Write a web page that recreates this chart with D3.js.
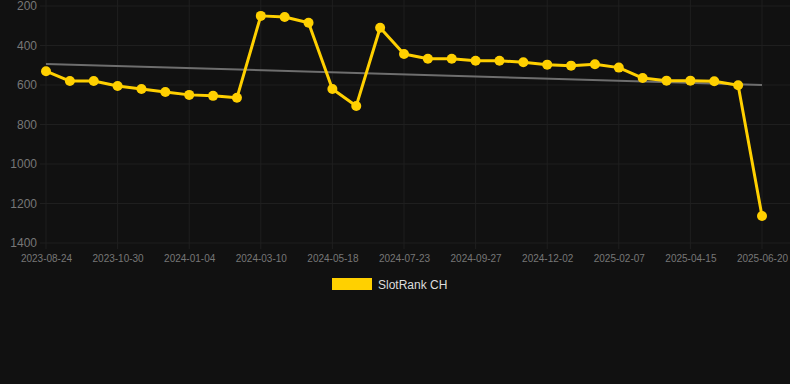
<!DOCTYPE html>
<html lang="en">
<head>
    <meta charset="UTF-8">
    <title>SlotRank CH</title>
    <script src="https://d3js.org/d3.v7.min.js"></script>
    <style>
        body {
            margin: 0;
            background: #111111;
            font-family: Arial, "Liberation Sans", sans-serif;
        }
        .grid line {
            stroke: #1f1f1f;
            stroke-width: 1;
        }
        .axis text {
            fill: #777777;
        }
    </style>
</head>
<body>
    <div id="chart"></div>

    <script>
        // dates of each sample (x axis shows every 3rd one)
        const dates = [
            "2023-08-24", "2023-09-15", "2023-10-08", "2023-10-30", "2023-11-21", "2023-12-13",
            "2024-01-04", "2024-01-26", "2024-02-17", "2024-03-10", "2024-04-02", "2024-04-25",
            "2024-05-18", "2024-06-09", "2024-07-01", "2024-07-23", "2024-08-14", "2024-09-05",
            "2024-09-27", "2024-10-19", "2024-11-10", "2024-12-02", "2024-12-24", "2025-01-15",
            "2025-02-07", "2025-03-01", "2025-03-23", "2025-04-15", "2025-05-07", "2025-05-29",
            "2025-06-20"
        ];
        // rank values (lower = better, axis reversed)
        const ranks = [
            530, 580, 580, 605, 620, 635,
            650, 655, 665, 250, 256, 285,
            620, 706, 310, 443, 467, 467,
            477, 477, 485, 497, 502, 495,
            512, 565, 578, 578, 581, 601,
            1263
        ];
        const yTicks = [200, 400, 600, 800, 1000, 1200, 1400];
        const seriesName = "SlotRank CH";

        const width = 790, height = 384;
        const mLeft = 46, mRight = 762, mTop = 6, mBottom = 243;

        const svg = d3.select("#chart").append("svg")
            .attr("width", width)
            .attr("height", height);

        const x = d3.scalePoint()
            .domain(dates)
            .range([mLeft, mRight]);

        const y = d3.scaleLinear()
            .domain([200, 1400])
            .range([mTop, mBottom]);

        const xTickDates = dates.filter((d, i) => i % 3 === 0);

        // grid
        const grid = svg.append("g").attr("class", "grid");
        grid.selectAll(".gx")
            .data(xTickDates)
            .enter().append("line")
            .attr("x1", d => x(d)).attr("x2", d => x(d))
            .attr("y1", 0).attr("y2", mBottom + 6);
        grid.selectAll(".gy")
            .data(yTicks)
            .enter().append("line")
            .attr("x1", mLeft - 6).attr("x2", width)
            .attr("y1", d => y(d)).attr("y2", d => y(d));

        // Eje Y
        svg.append("g")
            .attr("class", "axis")
            .attr("transform", `translate(${mLeft - 8},0)`)
            .call(d3.axisLeft(y).tickValues(yTicks).tickFormat(d3.format("d")).tickSize(0).tickPadding(1))
            .call(g => g.select(".domain").remove())
            .selectAll("text")
            .style("font-size", "12px");

        // Eje X
        svg.append("g")
            .attr("class", "axis")
            .attr("transform", `translate(0,${mBottom + 6})`)
            .call(d3.axisBottom(x).tickValues(xTickDates).tickSize(0).tickPadding(6))
            .call(g => g.select(".domain").remove())
            .selectAll("text")
            .style("font-size", "10px");

        // trend line (least squares over the index)
        const n = ranks.length;
        const mx = d3.mean(d3.range(n));
        const my = d3.mean(ranks);
        const slope = d3.sum(ranks, (v, i) => (i - mx) * (v - my)) / d3.sum(d3.range(n), i => (i - mx) ** 2);
        const trend = [0, n - 1].map(i => ({ date: dates[i], v: my + slope * (i - mx) }));

        svg.append("path")
            .datum(trend)
            .attr("fill", "none")
            .attr("stroke", "#6e6e6e")
            .attr("stroke-width", 2)
            .attr("d", d3.line().x(d => x(d.date)).y(d => y(d.v)));

        const data = dates.map((d, i) => ({ date: d, v: ranks[i] }));

        svg.append("path")
            .datum(data)
            .attr("fill", "none")
            .attr("stroke", "#ffd000")
            .attr("stroke-width", 3)
            .attr("stroke-linejoin", "round")
            .attr("d", d3.line().x(d => x(d.date)).y(d => y(d.v)));

        svg.selectAll("circle")
            .data(data)
            .enter().append("circle")
            .attr("cx", d => x(d.date))
            .attr("cy", d => y(d.v))
            .attr("r", 5)
            .attr("fill", "#ffd000");

        // legend
        svg.append("rect")
            .attr("x", 332).attr("y", 278)
            .attr("width", 40).attr("height", 12)
            .attr("fill", "#ffd000");
        svg.append("text")
            .attr("x", 378).attr("y", 289)
            .attr("fill", "#dddddd")
            .style("font-size", "12px")
            .text(seriesName);
    </script>
</body>
</html>
